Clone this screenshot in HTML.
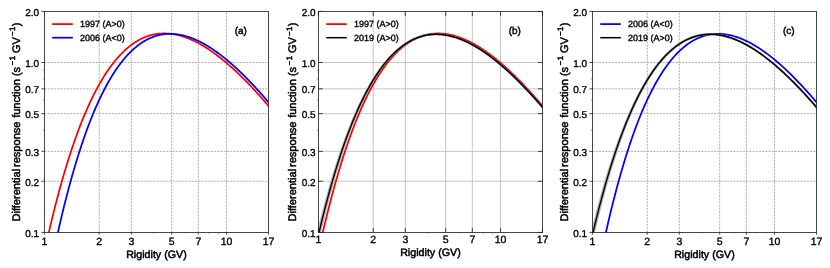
<!DOCTYPE html>
<html><head><meta charset="utf-8"><title>Differential response function</title>
<style>
html,body{margin:0;padding:0;background:#fff;}
body{width:830px;height:268px;overflow:hidden;}
svg{display:block;will-change:transform;}
text{text-rendering:geometricPrecision;font-family:"Liberation Sans",sans-serif;fill:#000;stroke:#000;stroke-width:0.35px;stroke-linejoin:round;}
.tk{font-size:10.5px;}
.lb{font-size:10.7px;stroke-width:0.5px;}
.ty{font-size:10.0px;}
.lg{font-size:9.0px;}
.tg{font-size:10px;stroke-width:0.45px;}
.sp{stroke:#1a1a1a;stroke-width:0.8;fill:none;}
.gd{stroke:#b2b2b2;stroke-width:1.0;fill:none;stroke-dasharray:2.2 1;}
.gs{stroke:#bebebe;stroke-width:0.9;fill:none;}
.cv{fill:none;stroke-width:1.65;stroke-linejoin:round;stroke-linecap:butt;}
</style></head><body>
<svg width="830" height="268" viewBox="0 0 830 268">
<rect x="0" y="0" width="830" height="268" fill="#ffffff"/>

<g>
<clipPath id="c0"><rect x="44.40" y="11.40" width="224.10" height="221.00"/></clipPath>
<path class="gd" d="M99.23,232.40V11.40M131.30,232.40V11.40M171.70,232.40V11.40M198.32,232.40V11.40M226.53,232.40V11.40M44.40,181.27H268.50M44.40,151.35H268.50M44.40,113.67H268.50M44.40,88.85H268.50M44.40,62.53H268.50"/>
<g clip-path="url(#c0)">
<path class="cv" d="M40.76,269.50 L41.73,264.80 L42.69,260.18 L43.66,255.62 L44.63,251.12 L45.60,246.69 L46.57,242.32 L47.53,238.02 L48.50,233.78 L49.47,229.60 L50.44,225.48 L51.41,221.42 L52.38,217.42 L53.34,213.48 L54.31,209.60 L55.28,205.78 L56.25,202.02 L57.22,198.31 L58.18,194.66 L59.15,191.06 L60.12,187.52 L61.09,184.04 L62.06,180.61 L63.02,177.23 L63.99,173.90 L64.96,170.63 L65.93,167.41 L66.90,164.24 L67.87,161.12 L68.83,158.05 L69.80,155.03 L70.77,152.05 L71.74,149.13 L72.71,146.26 L73.67,143.43 L74.64,140.65 L75.61,137.92 L76.58,135.23 L77.55,132.59 L78.51,129.99 L79.48,127.44 L80.45,124.93 L81.42,122.47 L82.39,120.05 L83.36,117.67 L84.32,115.33 L85.29,113.04 L86.26,110.79 L87.23,108.58 L88.20,106.41 L89.16,104.28 L90.13,102.19 L91.10,100.14 L92.07,98.12 L93.04,96.15 L94.01,94.22 L94.97,92.32 L95.94,90.46 L96.91,88.63 L97.88,86.85 L98.85,85.10 L99.81,83.38 L100.78,81.70 L101.75,80.06 L102.72,78.45 L103.69,76.88 L104.65,75.33 L105.62,73.83 L106.59,72.35 L107.56,70.91 L108.53,69.50 L109.50,68.13 L110.46,66.78 L111.43,65.47 L112.40,64.19 L113.37,62.94 L114.34,61.72 L115.30,60.53 L116.27,59.37 L117.24,58.24 L118.21,57.14 L119.18,56.06 L120.14,55.02 L121.11,54.01 L122.08,53.02 L123.05,52.06 L124.02,51.13 L124.99,50.22 L125.95,49.35 L126.92,48.50 L127.89,47.67 L128.86,46.88 L129.83,46.10 L130.79,45.36 L131.76,44.64 L132.73,43.94 L133.70,43.27 L134.67,42.62 L135.64,42.00 L136.60,41.40 L137.57,40.83 L138.54,40.28 L139.51,39.75 L140.48,39.24 L141.44,38.76 L142.41,38.30 L143.38,37.87 L144.35,37.45 L145.32,37.06 L146.28,36.69 L147.25,36.34 L148.22,36.01 L149.19,35.70 L150.16,35.41 L151.13,35.15 L152.09,34.90 L153.06,34.68 L154.03,34.47 L155.00,34.28 L155.97,34.12 L156.93,33.97 L157.90,33.84 L158.87,33.73 L159.84,33.64 L160.81,33.57 L161.77,33.51 L162.74,33.47 L163.71,33.46 L164.68,33.46 L165.65,33.47 L166.62,33.51 L167.58,33.56 L168.55,33.63 L169.52,33.71 L170.49,33.81 L171.46,33.93 L172.42,34.07 L173.39,34.22 L174.36,34.38 L175.33,34.57 L176.30,34.77 L177.26,34.98 L178.23,35.21 L179.20,35.45 L180.17,35.71 L181.14,35.98 L182.11,36.27 L183.07,36.58 L184.04,36.89 L185.01,37.22 L185.98,37.57 L186.95,37.93 L187.91,38.30 L188.88,38.69 L189.85,39.09 L190.82,39.50 L191.79,39.93 L192.76,40.37 L193.72,40.82 L194.69,41.29 L195.66,41.77 L196.63,42.26 L197.60,42.76 L198.56,43.28 L199.53,43.81 L200.50,44.35 L201.47,44.90 L202.44,45.46 L203.40,46.04 L204.37,46.62 L205.34,47.22 L206.31,47.83 L207.28,48.45 L208.25,49.08 L209.21,49.72 L210.18,50.38 L211.15,51.04 L212.12,51.72 L213.09,52.40 L214.05,53.10 L215.02,53.80 L215.99,54.52 L216.96,55.24 L217.93,55.98 L218.89,56.73 L219.86,57.48 L220.83,58.25 L221.80,59.02 L222.77,59.81 L223.74,60.60 L224.70,61.40 L225.67,62.21 L226.64,63.03 L227.61,63.86 L228.58,64.70 L229.54,65.55 L230.51,66.41 L231.48,67.27 L232.45,68.14 L233.42,69.02 L234.39,69.91 L235.35,70.81 L236.32,71.72 L237.29,72.63 L238.26,73.56 L239.23,74.49 L240.19,75.42 L241.16,76.37 L242.13,77.32 L243.10,78.28 L244.07,79.25 L245.03,80.23 L246.00,81.21 L246.97,82.20 L247.94,83.20 L248.91,84.20 L249.88,85.22 L250.84,86.23 L251.81,87.26 L252.78,88.29 L253.75,89.33 L254.72,90.38 L255.68,91.43 L256.65,92.49 L257.62,93.55 L258.59,94.63 L259.56,95.70 L260.52,96.79 L261.49,97.88 L262.46,98.98 L263.43,100.08 L264.40,101.19 L265.37,102.30 L266.33,103.42 L267.30,104.55 L268.27,105.68 L269.24,106.82 L270.21,107.96 L271.17,109.11 L272.14,110.27" stroke="#ff0000" style="stroke-width:1.75"/>
<path class="cv" d="M40.76,319.73 L41.73,314.18 L42.69,308.71 L43.66,303.32 L44.63,298.01 L45.60,292.77 L46.57,287.61 L47.53,282.52 L48.50,277.50 L49.47,272.56 L50.44,267.69 L51.41,262.89 L52.38,258.16 L53.34,253.50 L54.31,248.91 L55.28,244.39 L56.25,239.93 L57.22,235.54 L58.18,231.22 L59.15,226.96 L60.12,222.77 L61.09,218.64 L62.06,214.57 L63.02,210.57 L63.99,206.63 L64.96,202.75 L65.93,198.93 L66.90,195.17 L67.87,191.46 L68.83,187.82 L69.80,184.24 L70.77,180.71 L71.74,177.24 L72.71,173.82 L73.67,170.46 L74.64,167.16 L75.61,163.90 L76.58,160.71 L77.55,157.56 L78.51,154.47 L79.48,151.43 L80.45,148.44 L81.42,145.50 L82.39,142.62 L83.36,139.78 L84.32,136.99 L85.29,134.25 L86.26,131.56 L87.23,128.91 L88.20,126.31 L89.16,123.76 L90.13,121.26 L91.10,118.80 L92.07,116.38 L93.04,114.01 L94.01,111.69 L94.97,109.40 L95.94,107.17 L96.91,104.97 L97.88,102.81 L98.85,100.70 L99.81,98.63 L100.78,96.60 L101.75,94.61 L102.72,92.66 L103.69,90.75 L104.65,88.88 L105.62,87.05 L106.59,85.25 L107.56,83.49 L108.53,81.78 L109.50,80.09 L110.46,78.45 L111.43,76.84 L112.40,75.26 L113.37,73.73 L114.34,72.22 L115.30,70.76 L116.27,69.32 L117.24,67.92 L118.21,66.56 L119.18,65.22 L120.14,63.92 L121.11,62.65 L122.08,61.42 L123.05,60.22 L124.02,59.04 L124.99,57.90 L125.95,56.79 L126.92,55.71 L127.89,54.66 L128.86,53.64 L129.83,52.65 L130.79,51.69 L131.76,50.76 L132.73,49.85 L133.70,48.98 L134.67,48.13 L135.64,47.31 L136.60,46.52 L137.57,45.75 L138.54,45.01 L139.51,44.30 L140.48,43.61 L141.44,42.95 L142.41,42.32 L143.38,41.71 L144.35,41.12 L145.32,40.56 L146.28,40.03 L147.25,39.51 L148.22,39.03 L149.19,38.56 L150.16,38.12 L151.13,37.71 L152.09,37.31 L153.06,36.94 L154.03,36.59 L155.00,36.26 L155.97,35.96 L156.93,35.68 L157.90,35.42 L158.87,35.18 L159.84,34.96 L160.81,34.76 L161.77,34.58 L162.74,34.42 L163.71,34.29 L164.68,34.17 L165.65,34.07 L166.62,33.99 L167.58,33.93 L168.55,33.89 L169.52,33.87 L170.49,33.87 L171.46,33.89 L172.42,33.92 L173.39,33.98 L174.36,34.05 L175.33,34.13 L176.30,34.24 L177.26,34.36 L178.23,34.50 L179.20,34.66 L180.17,34.83 L181.14,35.02 L182.11,35.23 L183.07,35.45 L184.04,35.69 L185.01,35.95 L185.98,36.22 L186.95,36.50 L187.91,36.81 L188.88,37.12 L189.85,37.45 L190.82,37.80 L191.79,38.16 L192.76,38.54 L193.72,38.93 L194.69,39.33 L195.66,39.75 L196.63,40.18 L197.60,40.63 L198.56,41.09 L199.53,41.56 L200.50,42.05 L201.47,42.55 L202.44,43.06 L203.40,43.58 L204.37,44.12 L205.34,44.67 L206.31,45.24 L207.28,45.81 L208.25,46.40 L209.21,47.00 L210.18,47.61 L211.15,48.24 L212.12,48.87 L213.09,49.52 L214.05,50.18 L215.02,50.85 L215.99,51.53 L216.96,52.22 L217.93,52.92 L218.89,53.64 L219.86,54.36 L220.83,55.10 L221.80,55.84 L222.77,56.60 L223.74,57.37 L224.70,58.14 L225.67,58.93 L226.64,59.73 L227.61,60.53 L228.58,61.35 L229.54,62.17 L230.51,63.01 L231.48,63.85 L232.45,64.71 L233.42,65.57 L234.39,66.44 L235.35,67.32 L236.32,68.21 L237.29,69.11 L238.26,70.02 L239.23,70.94 L240.19,71.86 L241.16,72.80 L242.13,73.74 L243.10,74.69 L244.07,75.65 L245.03,76.61 L246.00,77.59 L246.97,78.57 L247.94,79.56 L248.91,80.56 L249.88,81.56 L250.84,82.57 L251.81,83.59 L252.78,84.62 L253.75,85.66 L254.72,86.70 L255.68,87.75 L256.65,88.80 L257.62,89.87 L258.59,90.94 L259.56,92.02 L260.52,93.10 L261.49,94.19 L262.46,95.29 L263.43,96.39 L264.40,97.50 L265.37,98.62 L266.33,99.74 L267.30,100.87 L268.27,102.01 L269.24,103.15 L270.21,104.30 L271.17,105.45 L272.14,106.61" stroke="#0000ff" style="stroke-width:1.75"/>
</g>
<rect class="sp" x="44.40" y="11.40" width="224.10" height="221.00"/>
<path class="sp" d="M44.40,232.40v2.3M99.23,232.40v2.3M131.30,232.40v2.3M171.70,232.40v2.3M198.32,232.40v2.3M226.53,232.40v2.3M268.50,232.40v2.3M44.40,232.40h-3M44.40,181.27h-3M44.40,151.35h-3M44.40,113.67h-3M44.40,88.85h-3M44.40,62.53h-3M44.40,11.40h-3"/>
<path class="sp" style="stroke-width:0.6;stroke:#555" d="M154.05,232.40v1.3M186.12,232.40v1.3M208.88,232.40v1.3M218.19,232.40v1.3M44.40,130.13h-1.6M44.40,100.22h-1.6M44.40,79.00h-1.6M44.40,70.31h-1.6"/>
<text class="tk" x="44.40" y="245.00" text-anchor="middle">1</text>
<text class="tk" x="99.23" y="245.00" text-anchor="middle">2</text>
<text class="tk" x="131.30" y="245.00" text-anchor="middle">3</text>
<text class="tk" x="171.70" y="245.00" text-anchor="middle">5</text>
<text class="tk" x="198.32" y="245.00" text-anchor="middle">7</text>
<text class="tk" x="226.53" y="245.00" text-anchor="middle">10</text>
<text class="tk" x="268.50" y="245.00" text-anchor="middle">17</text>
<text class="ty" x="39.20" y="236.65" text-anchor="end">0.1</text>
<text class="ty" x="39.20" y="185.52" text-anchor="end">0.2</text>
<text class="ty" x="39.20" y="155.60" text-anchor="end">0.3</text>
<text class="ty" x="39.20" y="117.92" text-anchor="end">0.5</text>
<text class="ty" x="39.20" y="93.10" text-anchor="end">0.7</text>
<text class="ty" x="39.20" y="66.78" text-anchor="end">1.0</text>
<text class="ty" x="39.20" y="15.65" text-anchor="end">2.0</text>
<text class="lb" x="156.45" y="257.70" text-anchor="middle">Rigidity (GV)</text>
<g transform="translate(19.70,0) rotate(-90)"><text class="lb" x="-221.50" y="0.00" style="font-size:11.05px">Differential</text><text class="lb" x="-167.00" y="0.00" style="font-size:11.05px">response</text><text class="lb" x="-117.85" y="0.00" style="font-size:11.05px">function</text><text class="lb" x="-76.10" y="0.00" style="font-size:11.05px">(s</text><text class="lb" x="-65.50" y="-4.70" style="font-size:7.5px" textLength="4.7" lengthAdjust="spacingAndGlyphs">−</text><text class="lb" x="-60.30" y="-4.70" style="font-size:7.9px">1</text><text class="lb" x="-53.10" y="0.00" style="font-size:11.05px">GV</text><text class="lb" x="-36.00" y="-4.70" style="font-size:7.5px" textLength="4.7" lengthAdjust="spacingAndGlyphs">−</text><text class="lb" x="-31.10" y="-4.70" style="font-size:7.9px">1</text><text class="lb" x="-26.30" y="0.00" style="font-size:11.05px">)</text></g>
<path d="M52.20,24.1h20.6" stroke="#ff0000" stroke-width="1.75" fill="none"/>
<text class="lg" x="79.90" y="27.40" text-anchor="start">1997 (A&gt;0)</text>
<path d="M52.20,37.7h20.6" stroke="#0000ff" stroke-width="1.75" fill="none"/>
<text class="lg" x="79.90" y="41.00" text-anchor="start">2006 (A&lt;0)</text>
<text class="tg" x="240.80" y="33.90" text-anchor="middle">(a)</text>
</g>
<g>
<clipPath id="c1"><rect x="318.40" y="11.40" width="224.10" height="221.00"/></clipPath>
<path class="gs" d="M373.23,232.40V11.40M405.30,232.40V11.40M445.70,232.40V11.40M472.32,232.40V11.40M500.53,232.40V11.40M318.40,181.27H542.50M318.40,151.35H542.50M318.40,113.67H542.50M318.40,88.85H542.50M318.40,62.53H542.50"/>
<g clip-path="url(#c1)">
<path class="cv" d="M314.76,269.50 L315.73,264.80 L316.69,260.18 L317.66,255.62 L318.63,251.12 L319.60,246.69 L320.57,242.32 L321.53,238.02 L322.50,233.78 L323.47,229.60 L324.44,225.48 L325.41,221.42 L326.38,217.42 L327.34,213.48 L328.31,209.60 L329.28,205.78 L330.25,202.02 L331.22,198.31 L332.18,194.66 L333.15,191.06 L334.12,187.52 L335.09,184.04 L336.06,180.61 L337.02,177.23 L337.99,173.90 L338.96,170.63 L339.93,167.41 L340.90,164.24 L341.87,161.12 L342.83,158.05 L343.80,155.03 L344.77,152.05 L345.74,149.13 L346.71,146.26 L347.67,143.43 L348.64,140.65 L349.61,137.92 L350.58,135.23 L351.55,132.59 L352.51,129.99 L353.48,127.44 L354.45,124.93 L355.42,122.47 L356.39,120.05 L357.36,117.67 L358.32,115.33 L359.29,113.04 L360.26,110.79 L361.23,108.58 L362.20,106.41 L363.16,104.28 L364.13,102.19 L365.10,100.14 L366.07,98.12 L367.04,96.15 L368.01,94.22 L368.97,92.32 L369.94,90.46 L370.91,88.63 L371.88,86.85 L372.85,85.10 L373.81,83.38 L374.78,81.70 L375.75,80.06 L376.72,78.45 L377.69,76.88 L378.65,75.33 L379.62,73.83 L380.59,72.35 L381.56,70.91 L382.53,69.50 L383.50,68.13 L384.46,66.78 L385.43,65.47 L386.40,64.19 L387.37,62.94 L388.34,61.72 L389.30,60.53 L390.27,59.37 L391.24,58.24 L392.21,57.14 L393.18,56.06 L394.14,55.02 L395.11,54.01 L396.08,53.02 L397.05,52.06 L398.02,51.13 L398.99,50.22 L399.95,49.35 L400.92,48.50 L401.89,47.67 L402.86,46.88 L403.83,46.10 L404.79,45.36 L405.76,44.64 L406.73,43.94 L407.70,43.27 L408.67,42.62 L409.64,42.00 L410.60,41.40 L411.57,40.83 L412.54,40.28 L413.51,39.75 L414.48,39.24 L415.44,38.76 L416.41,38.30 L417.38,37.87 L418.35,37.45 L419.32,37.06 L420.28,36.69 L421.25,36.34 L422.22,36.01 L423.19,35.70 L424.16,35.41 L425.13,35.15 L426.09,34.90 L427.06,34.68 L428.03,34.47 L429.00,34.28 L429.97,34.12 L430.93,33.97 L431.90,33.84 L432.87,33.73 L433.84,33.64 L434.81,33.57 L435.77,33.51 L436.74,33.47 L437.71,33.46 L438.68,33.46 L439.65,33.47 L440.62,33.51 L441.58,33.56 L442.55,33.63 L443.52,33.71 L444.49,33.81 L445.46,33.93 L446.42,34.07 L447.39,34.22 L448.36,34.38 L449.33,34.57 L450.30,34.77 L451.26,34.98 L452.23,35.21 L453.20,35.45 L454.17,35.71 L455.14,35.98 L456.11,36.27 L457.07,36.58 L458.04,36.89 L459.01,37.22 L459.98,37.57 L460.95,37.93 L461.91,38.30 L462.88,38.69 L463.85,39.09 L464.82,39.50 L465.79,39.93 L466.76,40.37 L467.72,40.82 L468.69,41.29 L469.66,41.77 L470.63,42.26 L471.60,42.76 L472.56,43.28 L473.53,43.81 L474.50,44.35 L475.47,44.90 L476.44,45.46 L477.40,46.04 L478.37,46.62 L479.34,47.22 L480.31,47.83 L481.28,48.45 L482.25,49.08 L483.21,49.72 L484.18,50.38 L485.15,51.04 L486.12,51.72 L487.09,52.40 L488.05,53.10 L489.02,53.80 L489.99,54.52 L490.96,55.24 L491.93,55.98 L492.89,56.73 L493.86,57.48 L494.83,58.25 L495.80,59.02 L496.77,59.81 L497.74,60.60 L498.70,61.40 L499.67,62.21 L500.64,63.03 L501.61,63.86 L502.58,64.70 L503.54,65.55 L504.51,66.41 L505.48,67.27 L506.45,68.14 L507.42,69.02 L508.39,69.91 L509.35,70.81 L510.32,71.72 L511.29,72.63 L512.26,73.56 L513.23,74.49 L514.19,75.42 L515.16,76.37 L516.13,77.32 L517.10,78.28 L518.07,79.25 L519.03,80.23 L520.00,81.21 L520.97,82.20 L521.94,83.20 L522.91,84.20 L523.88,85.22 L524.84,86.23 L525.81,87.26 L526.78,88.29 L527.75,89.33 L528.72,90.38 L529.68,91.43 L530.65,92.49 L531.62,93.55 L532.59,94.63 L533.56,95.70 L534.52,96.79 L535.49,97.88 L536.46,98.98 L537.43,100.08 L538.40,101.19 L539.37,102.30 L540.33,103.42 L541.30,104.55 L542.27,105.68 L543.24,106.82 L544.21,107.96 L545.17,109.11 L546.14,110.27" stroke="#ff0000" style="stroke-width:1.75"/>
<linearGradient id="g1" gradientUnits="userSpaceOnUse" x1="318.40" y1="0" x2="542.50" y2="0"><stop offset="0" stop-color="#b4b4b4"/><stop offset="0.12" stop-color="#a6a6a6"/><stop offset="0.25" stop-color="#8e8e8e"/><stop offset="0.5" stop-color="#6e6e6e"/><stop offset="1" stop-color="#666666"/></linearGradient>
<path d="M316.88,251.61 L317.82,247.27 L318.76,242.99 L319.71,238.78 L320.65,234.62 L321.59,230.52 L322.54,226.48 L323.48,222.50 L324.43,218.58 L325.37,214.72 L326.32,210.91 L327.26,207.16 L328.21,203.46 L329.16,199.82 L330.10,196.23 L331.05,192.70 L332.00,189.22 L332.95,185.79 L333.90,182.41 L334.85,179.09 L335.80,175.82 L336.75,172.59 L337.70,169.42 L338.65,166.30 L339.60,163.22 L340.55,160.20 L341.50,157.22 L342.45,154.29 L343.40,151.41 L344.36,148.57 L345.31,145.78 L346.26,143.04 L347.21,140.34 L348.17,137.68 L349.12,135.07 L350.08,132.51 L351.03,129.98 L351.98,127.50 L352.94,125.07 L353.89,122.67 L354.85,120.32 L355.80,118.00 L356.76,115.73 L357.71,113.50 L358.67,111.31 L359.62,109.16 L360.58,107.04 L361.53,104.97 L362.49,102.93 L363.44,100.94 L364.40,98.98 L365.35,97.05 L366.31,95.17 L367.26,93.32 L368.22,91.50 L369.18,89.72 L370.13,87.98 L371.09,86.27 L372.04,84.60 L373.00,82.96 L373.96,81.36 L374.91,79.79 L375.87,78.25 L376.82,76.74 L377.78,75.27 L378.73,73.83 L379.69,72.42 L380.65,71.04 L381.60,69.70 L382.56,68.38 L383.51,67.10 L384.47,65.84 L385.42,64.62 L386.38,63.43 L387.33,62.26 L388.29,61.13 L389.24,60.02 L390.19,58.94 L391.15,57.89 L392.10,56.87 L393.06,55.87 L394.01,54.90 L394.96,53.96 L395.92,53.05 L396.87,52.16 L397.82,51.30 L398.77,50.46 L399.72,49.65 L400.68,48.87 L401.63,48.11 L402.58,47.37 L403.53,46.66 L404.48,45.98 L405.43,45.31 L406.38,44.68 L407.33,44.06 L408.28,43.47 L409.23,42.90 L410.18,42.35 L411.13,41.83 L412.08,41.33 L413.03,40.85 L413.98,40.39 L414.93,39.95 L415.87,39.54 L416.82,39.14 L417.77,38.77 L418.72,38.41 L419.67,38.08 L420.61,37.77 L421.56,37.48 L422.51,37.20 L423.46,36.95 L424.40,36.71 L425.35,36.50 L426.30,36.30 L427.25,36.12 L428.20,35.97 L429.14,35.82 L430.09,35.70 L431.04,35.60 L431.99,35.51 L432.94,35.44 L433.89,35.39 L434.83,35.35 L435.78,35.33 L436.73,35.33 L437.68,35.34 L438.63,35.38 L439.58,35.42 L440.53,35.49 L441.49,35.57 L442.44,35.67 L443.39,35.78 L444.34,35.91 L445.29,36.05 L446.24,36.21 L447.20,36.38 L448.15,36.57 L449.10,36.77 L450.06,36.99 L451.01,37.22 L451.97,37.47 L452.92,37.73 L453.88,38.01 L454.83,38.30 L455.79,38.60 L456.74,38.92 L457.70,39.25 L458.66,39.59 L459.61,39.95 L460.57,40.32 L461.53,40.71 L462.49,41.10 L463.44,41.51 L464.40,41.94 L465.36,42.37 L466.32,42.82 L467.28,43.28 L468.24,43.75 L469.20,44.24 L470.16,44.73 L471.12,45.24 L472.08,45.76 L473.04,46.29 L474.00,46.84 L474.96,47.39 L475.92,47.96 L476.88,48.54 L477.84,49.13 L478.80,49.72 L479.77,50.33 L480.73,50.96 L481.69,51.59 L482.65,52.23 L483.61,52.88 L484.58,53.55 L485.54,54.22 L486.50,54.90 L487.47,55.59 L488.43,56.30 L489.39,57.01 L490.35,57.73 L491.32,58.47 L492.28,59.21 L493.25,59.96 L494.21,60.72 L495.17,61.49 L496.14,62.27 L497.10,63.06 L498.07,63.85 L499.03,64.66 L499.99,65.47 L500.96,66.30 L501.92,67.13 L502.89,67.97 L503.85,68.82 L504.82,69.67 L505.78,70.54 L506.75,71.41 L507.71,72.29 L508.68,73.18 L509.64,74.08 L510.61,74.98 L511.57,75.90 L512.54,76.82 L513.50,77.75 L514.47,78.68 L515.44,79.62 L516.40,80.57 L517.37,81.53 L518.33,82.50 L519.30,83.47 L520.26,84.45 L521.23,85.43 L522.20,86.43 L523.16,87.43 L524.13,88.43 L525.09,89.45 L526.06,90.47 L527.03,91.49 L527.99,92.53 L528.96,93.56 L529.93,94.61 L530.89,95.66 L531.86,96.72 L532.82,97.79 L533.79,98.86 L534.76,99.93 L535.72,101.02 L536.69,102.10 L537.66,103.20 L538.62,104.30 L539.59,105.40 L540.56,106.52 L541.52,107.63 L542.49,108.76 L543.46,109.88 L544.42,111.02 L545.39,112.16 L546.89,110.88 L545.93,109.74 L544.96,108.60 L543.99,107.47 L543.02,106.34 L542.05,105.22 L541.08,104.11 L540.11,103.00 L539.14,101.89 L538.17,100.79 L537.20,99.70 L536.23,98.61 L535.26,97.53 L534.29,96.46 L533.32,95.39 L532.35,94.33 L531.38,93.27 L530.41,92.22 L529.44,91.18 L528.47,90.14 L527.50,89.11 L526.53,88.08 L525.56,87.06 L524.59,86.05 L523.62,85.05 L522.65,84.05 L521.68,83.06 L520.71,82.07 L519.74,81.10 L518.77,80.13 L517.80,79.16 L516.83,78.21 L515.85,77.26 L514.88,76.32 L513.91,75.38 L512.94,74.46 L511.97,73.54 L511.00,72.63 L510.03,71.72 L509.06,70.83 L508.09,69.94 L507.12,69.06 L506.14,68.19 L505.17,67.32 L504.20,66.47 L503.23,65.62 L502.26,64.78 L501.29,63.95 L500.31,63.13 L499.34,62.32 L498.37,61.51 L497.40,60.72 L496.43,59.93 L495.45,59.15 L494.48,58.38 L493.51,57.63 L492.54,56.88 L491.56,56.14 L490.59,55.40 L489.62,54.68 L488.64,53.97 L487.67,53.27 L486.70,52.58 L485.72,51.89 L484.75,51.22 L483.78,50.56 L482.80,49.91 L481.83,49.27 L480.85,48.64 L479.88,48.02 L478.90,47.41 L477.93,46.81 L476.95,46.22 L475.98,45.65 L475.00,45.08 L474.03,44.53 L473.05,43.99 L472.08,43.46 L471.10,42.94 L470.12,42.43 L469.15,41.94 L468.17,41.45 L467.19,40.98 L466.21,40.52 L465.24,40.08 L464.26,39.64 L463.28,39.22 L462.30,38.81 L461.32,38.42 L460.34,38.04 L459.36,37.67 L458.38,37.31 L457.40,36.97 L456.42,36.65 L455.44,36.33 L454.46,36.03 L453.48,35.75 L452.50,35.48 L451.52,35.22 L450.54,34.98 L449.55,34.75 L448.57,34.54 L447.59,34.34 L446.60,34.16 L445.62,33.99 L444.64,33.84 L443.65,33.71 L442.67,33.59 L441.68,33.49 L440.70,33.40 L439.71,33.33 L438.72,33.28 L437.74,33.24 L436.75,33.22 L435.77,33.22 L434.78,33.23 L433.79,33.27 L432.80,33.32 L431.82,33.39 L430.83,33.48 L429.84,33.58 L428.85,33.71 L427.86,33.85 L426.88,34.01 L425.89,34.19 L424.90,34.39 L423.91,34.61 L422.92,34.85 L421.93,35.11 L420.94,35.39 L419.96,35.69 L418.97,36.02 L417.98,36.36 L416.99,36.72 L416.00,37.10 L415.01,37.51 L414.03,37.94 L413.04,38.38 L412.05,38.86 L411.06,39.35 L410.08,39.86 L409.09,40.40 L408.10,40.96 L407.12,41.55 L406.13,42.15 L405.14,42.78 L404.16,43.44 L403.17,44.12 L402.19,44.82 L401.20,45.55 L400.22,46.30 L399.23,47.07 L398.25,47.88 L397.26,48.70 L396.28,49.56 L395.29,50.44 L394.31,51.34 L393.33,52.27 L392.34,53.23 L391.36,54.21 L390.38,55.23 L389.40,56.27 L388.41,57.33 L387.43,58.43 L386.45,59.55 L385.47,60.70 L384.49,61.89 L383.51,63.10 L382.52,64.34 L381.54,65.61 L380.56,66.91 L379.58,68.24 L378.60,69.60 L377.62,70.99 L376.64,72.41 L375.66,73.87 L374.68,75.35 L373.70,76.87 L372.72,78.42 L371.74,80.01 L370.76,81.63 L369.77,83.28 L368.79,84.96 L367.81,86.69 L366.83,88.44 L365.85,90.23 L364.87,92.06 L363.89,93.92 L362.91,95.81 L361.93,97.75 L360.95,99.72 L359.97,101.73 L358.99,103.77 L358.01,105.86 L357.03,107.98 L356.05,110.14 L355.06,112.34 L354.08,114.59 L353.10,116.87 L352.12,119.19 L351.14,121.55 L350.16,123.95 L349.17,126.40 L348.19,128.89 L347.21,131.42 L346.23,133.99 L345.24,136.61 L344.26,139.27 L343.28,141.98 L342.29,144.73 L341.31,147.53 L340.33,150.37 L339.34,153.26 L338.36,156.19 L337.37,159.17 L336.39,162.21 L335.40,165.28 L334.42,168.41 L333.43,171.59 L332.44,174.82 L331.46,178.09 L330.47,181.42 L329.48,184.80 L328.50,188.24 L327.51,191.72 L326.52,195.26 L325.53,198.85 L324.54,202.49 L323.55,206.19 L322.56,209.95 L321.57,213.76 L320.58,217.63 L319.59,221.55 L318.60,225.53 L317.60,229.57 L316.61,233.67 L315.62,237.83 L314.62,242.05 L313.63,246.33 L312.63,250.66Z" fill="url(#g1)" stroke="none"/>
<path d="M315.42,251.29 L316.39,246.95 L317.36,242.67 L318.32,238.46 L319.29,234.30 L320.26,230.20 L321.23,226.17 L322.19,222.19 L323.16,218.27 L324.13,214.40 L325.10,210.60 L326.07,206.85 L327.03,203.15 L328.00,199.51 L328.97,195.92 L329.94,192.39 L330.90,188.91 L331.87,185.48 L332.84,182.11 L333.80,178.78 L334.77,175.51 L335.74,172.29 L336.71,169.12 L337.67,165.99 L338.64,162.92 L339.61,159.90 L340.58,156.92 L341.54,153.99 L342.51,151.11 L343.48,148.27 L344.44,145.48 L345.41,142.74 L346.38,140.04 L347.34,137.38 L348.31,134.77 L349.28,132.20 L350.24,129.68 L351.21,127.20 L352.18,124.76 L353.14,122.37 L354.11,120.01 L355.08,117.70 L356.04,115.43 L357.01,113.19 L357.98,111.00 L358.94,108.85 L359.91,106.74 L360.88,104.66 L361.84,102.62 L362.81,100.63 L363.77,98.66 L364.74,96.74 L365.70,94.85 L366.67,93.00 L367.64,91.19 L368.60,89.41 L369.57,87.67 L370.53,85.96 L371.50,84.28 L372.46,82.64 L373.43,81.04 L374.39,79.46 L375.36,77.92 L376.32,76.42 L377.29,74.94 L378.25,73.50 L379.21,72.09 L380.18,70.71 L381.14,69.36 L382.11,68.05 L383.07,66.76 L384.03,65.51 L385.00,64.28 L385.96,63.09 L386.92,61.92 L387.88,60.78 L388.85,59.67 L389.81,58.59 L390.77,57.54 L391.73,56.51 L392.69,55.52 L393.66,54.55 L394.62,53.61 L395.58,52.69 L396.54,51.80 L397.50,50.94 L398.46,50.10 L399.42,49.29 L400.38,48.50 L401.34,47.74 L402.30,47.00 L403.26,46.29 L404.22,45.60 L405.18,44.94 L406.14,44.30 L407.09,43.68 L408.05,43.09 L409.01,42.52 L409.97,41.97 L410.92,41.45 L411.88,40.94 L412.84,40.46 L413.80,40.00 L414.75,39.56 L415.71,39.15 L416.67,38.75 L417.62,38.38 L418.58,38.03 L419.53,37.69 L420.49,37.38 L421.45,37.09 L422.40,36.81 L423.36,36.56 L424.31,36.33 L425.27,36.11 L426.22,35.91 L427.18,35.74 L428.13,35.58 L429.09,35.44 L430.05,35.32 L431.00,35.21 L431.96,35.13 L432.91,35.06 L433.87,35.01 L434.82,34.97 L435.78,34.96 L436.74,34.96 L437.69,34.97 L438.65,35.01 L439.61,35.06 L440.56,35.12 L441.52,35.20 L442.48,35.30 L443.43,35.42 L444.39,35.55 L445.35,35.69 L446.31,35.85 L447.26,36.03 L448.22,36.22 L449.18,36.42 L450.14,36.64 L451.10,36.88 L452.06,37.13 L453.02,37.39 L453.98,37.67 L454.94,37.96 L455.89,38.27 L456.85,38.59 L457.81,38.92 L458.78,39.27 L459.74,39.63 L460.70,40.00 L461.66,40.39 L462.62,40.79 L463.58,41.20 L464.54,41.63 L465.50,42.06 L466.46,42.51 L467.43,42.98 L468.39,43.45 L469.35,43.94 L470.31,44.44 L471.27,44.95 L472.24,45.47 L473.20,46.00 L474.16,46.55 L475.13,47.11 L476.09,47.68 L477.05,48.25 L478.02,48.85 L478.98,49.45 L479.94,50.06 L480.91,50.68 L481.87,51.32 L482.83,51.96 L483.80,52.61 L484.76,53.28 L485.73,53.95 L486.69,54.64 L487.65,55.33 L488.62,56.04 L489.58,56.75 L490.55,57.48 L491.51,58.21 L492.48,58.95 L493.44,59.71 L494.41,60.47 L495.37,61.24 L496.34,62.02 L497.30,62.81 L498.27,63.61 L499.23,64.41 L500.20,65.23 L501.17,66.05 L502.13,66.89 L503.10,67.73 L504.06,68.58 L505.03,69.44 L505.99,70.30 L506.96,71.18 L507.93,72.06 L508.89,72.95 L509.86,73.85 L510.82,74.76 L511.79,75.67 L512.76,76.59 L513.72,77.52 L514.69,78.46 L515.65,79.40 L516.62,80.35 L517.59,81.31 L518.55,82.28 L519.52,83.25 L520.49,84.23 L521.45,85.22 L522.42,86.21 L523.39,87.21 L524.35,88.22 L525.32,89.23 L526.29,90.25 L527.25,91.28 L528.22,92.31 L529.19,93.35 L530.15,94.40 L531.12,95.45 L532.09,96.51 L533.05,97.58 L534.02,98.65 L534.99,99.73 L535.95,100.81 L536.92,101.90 L537.89,102.99 L538.85,104.10 L539.82,105.20 L540.79,106.31 L541.76,107.43 L542.72,108.56 L543.69,109.68 L544.66,110.82 L545.62,111.96 L546.66,111.08 L545.69,109.94 L544.72,108.80 L543.75,107.67 L542.78,106.54 L541.82,105.42 L540.85,104.31 L539.88,103.20 L538.91,102.10 L537.94,101.00 L536.97,99.91 L536.00,98.82 L535.03,97.74 L534.06,96.67 L533.09,95.60 L532.12,94.54 L531.15,93.48 L530.18,92.43 L529.21,91.39 L528.24,90.35 L527.27,89.32 L526.30,88.30 L525.33,87.28 L524.37,86.27 L523.40,85.26 L522.43,84.27 L521.46,83.28 L520.49,82.29 L519.52,81.32 L518.55,80.35 L517.58,79.39 L516.61,78.43 L515.64,77.48 L514.67,76.54 L513.70,75.61 L512.73,74.68 L511.76,73.77 L510.79,72.86 L509.82,71.95 L508.84,71.06 L507.87,70.17 L506.90,69.29 L505.93,68.42 L504.96,67.56 L503.99,66.71 L503.02,65.86 L502.05,65.02 L501.08,64.19 L500.11,63.37 L499.14,62.56 L498.17,61.76 L497.20,60.96 L496.23,60.18 L495.25,59.40 L494.28,58.64 L493.31,57.88 L492.34,57.13 L491.37,56.39 L490.40,55.66 L489.43,54.94 L488.45,54.23 L487.48,53.53 L486.51,52.84 L485.54,52.16 L484.57,51.49 L483.59,50.83 L482.62,50.18 L481.65,49.54 L480.68,48.91 L479.70,48.30 L478.73,47.69 L477.76,47.09 L476.78,46.51 L475.81,45.93 L474.84,45.37 L473.86,44.82 L472.89,44.28 L471.92,43.75 L470.94,43.23 L469.97,42.73 L469.00,42.24 L468.02,41.75 L467.05,41.29 L466.07,40.83 L465.10,40.39 L464.12,39.95 L463.15,39.54 L462.17,39.13 L461.20,38.74 L460.22,38.36 L459.25,37.99 L458.27,37.64 L457.29,37.30 L456.32,36.98 L455.34,36.67 L454.36,36.37 L453.39,36.08 L452.41,35.82 L451.43,35.56 L450.45,35.32 L449.48,35.10 L448.50,34.89 L447.52,34.69 L446.54,34.51 L445.56,34.35 L444.58,34.20 L443.61,34.07 L442.63,33.95 L441.65,33.85 L440.67,33.77 L439.69,33.70 L438.71,33.65 L437.73,33.61 L436.75,33.60 L435.77,33.60 L434.79,33.61 L433.81,33.65 L432.83,33.70 L431.85,33.77 L430.87,33.86 L429.89,33.97 L428.91,34.09 L427.92,34.24 L426.94,34.40 L425.96,34.58 L424.98,34.78 L424.00,35.00 L423.02,35.24 L422.04,35.50 L421.06,35.78 L420.08,36.08 L419.10,36.40 L418.12,36.75 L417.14,37.11 L416.16,37.49 L415.18,37.90 L414.20,38.32 L413.22,38.77 L412.24,39.24 L411.26,39.73 L410.28,40.25 L409.30,40.78 L408.32,41.34 L407.35,41.93 L406.37,42.53 L405.39,43.16 L404.41,43.81 L403.43,44.49 L402.46,45.19 L401.48,45.92 L400.50,46.67 L399.53,47.44 L398.55,48.24 L397.57,49.07 L396.60,49.92 L395.62,50.80 L394.65,51.70 L393.67,52.63 L392.70,53.58 L391.72,54.57 L390.75,55.58 L389.77,56.62 L388.80,57.68 L387.83,58.77 L386.85,59.90 L385.88,61.05 L384.90,62.23 L383.93,63.43 L382.96,64.67 L381.99,65.94 L381.01,67.24 L380.04,68.57 L379.07,69.93 L378.10,71.32 L377.12,72.74 L376.15,74.19 L375.18,75.68 L374.21,77.20 L373.24,78.75 L372.26,80.33 L371.29,81.95 L370.32,83.60 L369.35,85.28 L368.38,87.00 L367.41,88.76 L366.44,90.54 L365.47,92.37 L364.50,94.23 L363.53,96.13 L362.56,98.06 L361.59,100.03 L360.61,102.04 L359.64,104.08 L358.67,106.17 L357.70,108.29 L356.73,110.45 L355.76,112.65 L354.79,114.89 L353.82,117.17 L352.85,119.49 L351.88,121.85 L350.92,124.26 L349.95,126.70 L348.98,129.19 L348.01,131.72 L347.04,134.30 L346.07,136.91 L345.10,139.57 L344.13,142.28 L343.16,145.03 L342.19,147.83 L341.22,150.67 L340.25,153.56 L339.28,156.50 L338.31,159.48 L337.34,162.51 L336.38,165.59 L335.41,168.72 L334.44,171.89 L333.47,175.12 L332.50,178.40 L331.53,181.73 L330.56,185.11 L329.59,188.54 L328.62,192.03 L327.66,195.57 L326.69,199.16 L325.72,202.80 L324.75,206.50 L323.78,210.26 L322.81,214.07 L321.84,217.94 L320.87,221.87 L319.91,225.85 L318.94,229.89 L317.97,233.99 L317.00,238.15 L316.03,242.37 L315.06,246.65 L314.09,250.99Z" fill="#000" stroke="none"/>
</g>
<rect class="sp" x="318.40" y="11.40" width="224.10" height="221.00"/>
<path class="sp" d="M318.40,232.40v-4.5M373.23,232.40v-4.5M405.30,232.40v-4.5M445.70,232.40v-4.5M472.32,232.40v-4.5M500.53,232.40v-4.5M542.50,232.40v-4.5M318.40,232.40h4.5M318.40,181.27h4.5M318.40,151.35h4.5M318.40,113.67h4.5M318.40,88.85h4.5M318.40,62.53h4.5M318.40,11.40h4.5M318.40,11.40v4.5M373.23,11.40v4.5M405.30,11.40v4.5M445.70,11.40v4.5M472.32,11.40v4.5M500.53,11.40v4.5M542.50,11.40v4.5M542.50,232.40h-4.5M542.50,181.27h-4.5M542.50,151.35h-4.5M542.50,113.67h-4.5M542.50,88.85h-4.5M542.50,62.53h-4.5M542.50,11.40h-4.5"/>
<path class="sp" style="stroke-width:0.6;stroke:#555" d="M428.05,232.40v1.3M460.12,232.40v1.3M482.88,232.40v1.3M492.19,232.40v1.3M318.40,130.13h-1.6M318.40,100.22h-1.6M318.40,79.00h-1.6M318.40,70.31h-1.6"/>
<text class="tk" x="318.40" y="242.70" text-anchor="middle">1</text>
<text class="tk" x="373.23" y="242.70" text-anchor="middle">2</text>
<text class="tk" x="405.30" y="242.70" text-anchor="middle">3</text>
<text class="tk" x="445.70" y="242.70" text-anchor="middle">5</text>
<text class="tk" x="472.32" y="242.70" text-anchor="middle">7</text>
<text class="tk" x="500.53" y="242.70" text-anchor="middle">10</text>
<text class="tk" x="542.50" y="242.70" text-anchor="middle">17</text>
<text class="ty" x="315.60" y="236.65" text-anchor="end">0.1</text>
<text class="ty" x="315.60" y="185.52" text-anchor="end">0.2</text>
<text class="ty" x="315.60" y="155.60" text-anchor="end">0.3</text>
<text class="ty" x="315.60" y="117.92" text-anchor="end">0.5</text>
<text class="ty" x="315.60" y="93.10" text-anchor="end">0.7</text>
<text class="ty" x="315.60" y="66.78" text-anchor="end">1.0</text>
<text class="ty" x="315.60" y="15.65" text-anchor="end">2.0</text>
<text class="lb" x="430.45" y="255.50" text-anchor="middle">Rigidity (GV)</text>
<g transform="translate(296.35,0) rotate(-90)"><text class="lb" x="-221.50" y="0.00" style="font-size:11.05px">Differential</text><text class="lb" x="-167.00" y="0.00" style="font-size:11.05px">response</text><text class="lb" x="-117.85" y="0.00" style="font-size:11.05px">function</text><text class="lb" x="-76.10" y="0.00" style="font-size:11.05px">(s</text><text class="lb" x="-65.50" y="-4.70" style="font-size:7.5px" textLength="4.7" lengthAdjust="spacingAndGlyphs">−</text><text class="lb" x="-60.30" y="-4.70" style="font-size:7.9px">1</text><text class="lb" x="-53.10" y="0.00" style="font-size:11.05px">GV</text><text class="lb" x="-36.00" y="-4.70" style="font-size:7.5px" textLength="4.7" lengthAdjust="spacingAndGlyphs">−</text><text class="lb" x="-31.10" y="-4.70" style="font-size:7.9px">1</text><text class="lb" x="-26.30" y="0.00" style="font-size:11.05px">)</text></g>
<path d="M326.20,24.1h20.6" stroke="#ff0000" stroke-width="1.75" fill="none"/>
<text class="lg" x="353.90" y="27.40" text-anchor="start">1997 (A&gt;0)</text>
<path d="M326.20,37.7h20.6" stroke="#000000" stroke-width="1.5" fill="none"/>
<text class="lg" x="353.90" y="41.00" text-anchor="start">2019 (A&gt;0)</text>
<text class="tg" x="514.80" y="33.90" text-anchor="middle">(b)</text>
</g>
<g>
<clipPath id="c2"><rect x="592.40" y="11.40" width="224.10" height="221.00"/></clipPath>
<path class="gd" d="M647.23,232.40V11.40M679.30,232.40V11.40M719.70,232.40V11.40M746.32,232.40V11.40M774.53,232.40V11.40M592.40,181.27H816.50M592.40,151.35H816.50M592.40,113.67H816.50M592.40,88.85H816.50M592.40,62.53H816.50"/>
<g clip-path="url(#c2)">
<path class="cv" d="M588.76,319.73 L589.73,314.18 L590.69,308.71 L591.66,303.32 L592.63,298.01 L593.60,292.77 L594.57,287.61 L595.53,282.52 L596.50,277.50 L597.47,272.56 L598.44,267.69 L599.41,262.89 L600.38,258.16 L601.34,253.50 L602.31,248.91 L603.28,244.39 L604.25,239.93 L605.22,235.54 L606.18,231.22 L607.15,226.96 L608.12,222.77 L609.09,218.64 L610.06,214.57 L611.02,210.57 L611.99,206.63 L612.96,202.75 L613.93,198.93 L614.90,195.17 L615.87,191.46 L616.83,187.82 L617.80,184.24 L618.77,180.71 L619.74,177.24 L620.71,173.82 L621.67,170.46 L622.64,167.16 L623.61,163.90 L624.58,160.71 L625.55,157.56 L626.51,154.47 L627.48,151.43 L628.45,148.44 L629.42,145.50 L630.39,142.62 L631.36,139.78 L632.32,136.99 L633.29,134.25 L634.26,131.56 L635.23,128.91 L636.20,126.31 L637.16,123.76 L638.13,121.26 L639.10,118.80 L640.07,116.38 L641.04,114.01 L642.01,111.69 L642.97,109.40 L643.94,107.17 L644.91,104.97 L645.88,102.81 L646.85,100.70 L647.81,98.63 L648.78,96.60 L649.75,94.61 L650.72,92.66 L651.69,90.75 L652.65,88.88 L653.62,87.05 L654.59,85.25 L655.56,83.49 L656.53,81.78 L657.50,80.09 L658.46,78.45 L659.43,76.84 L660.40,75.26 L661.37,73.73 L662.34,72.22 L663.30,70.76 L664.27,69.32 L665.24,67.92 L666.21,66.56 L667.18,65.22 L668.14,63.92 L669.11,62.65 L670.08,61.42 L671.05,60.22 L672.02,59.04 L672.99,57.90 L673.95,56.79 L674.92,55.71 L675.89,54.66 L676.86,53.64 L677.83,52.65 L678.79,51.69 L679.76,50.76 L680.73,49.85 L681.70,48.98 L682.67,48.13 L683.64,47.31 L684.60,46.52 L685.57,45.75 L686.54,45.01 L687.51,44.30 L688.48,43.61 L689.44,42.95 L690.41,42.32 L691.38,41.71 L692.35,41.12 L693.32,40.56 L694.28,40.03 L695.25,39.51 L696.22,39.03 L697.19,38.56 L698.16,38.12 L699.13,37.71 L700.09,37.31 L701.06,36.94 L702.03,36.59 L703.00,36.26 L703.97,35.96 L704.93,35.68 L705.90,35.42 L706.87,35.18 L707.84,34.96 L708.81,34.76 L709.77,34.58 L710.74,34.42 L711.71,34.29 L712.68,34.17 L713.65,34.07 L714.62,33.99 L715.58,33.93 L716.55,33.89 L717.52,33.87 L718.49,33.87 L719.46,33.89 L720.42,33.92 L721.39,33.98 L722.36,34.05 L723.33,34.13 L724.30,34.24 L725.26,34.36 L726.23,34.50 L727.20,34.66 L728.17,34.83 L729.14,35.02 L730.11,35.23 L731.07,35.45 L732.04,35.69 L733.01,35.95 L733.98,36.22 L734.95,36.50 L735.91,36.81 L736.88,37.12 L737.85,37.45 L738.82,37.80 L739.79,38.16 L740.76,38.54 L741.72,38.93 L742.69,39.33 L743.66,39.75 L744.63,40.18 L745.60,40.63 L746.56,41.09 L747.53,41.56 L748.50,42.05 L749.47,42.55 L750.44,43.06 L751.40,43.58 L752.37,44.12 L753.34,44.67 L754.31,45.24 L755.28,45.81 L756.25,46.40 L757.21,47.00 L758.18,47.61 L759.15,48.24 L760.12,48.87 L761.09,49.52 L762.05,50.18 L763.02,50.85 L763.99,51.53 L764.96,52.22 L765.93,52.92 L766.89,53.64 L767.86,54.36 L768.83,55.10 L769.80,55.84 L770.77,56.60 L771.74,57.37 L772.70,58.14 L773.67,58.93 L774.64,59.73 L775.61,60.53 L776.58,61.35 L777.54,62.17 L778.51,63.01 L779.48,63.85 L780.45,64.71 L781.42,65.57 L782.39,66.44 L783.35,67.32 L784.32,68.21 L785.29,69.11 L786.26,70.02 L787.23,70.94 L788.19,71.86 L789.16,72.80 L790.13,73.74 L791.10,74.69 L792.07,75.65 L793.03,76.61 L794.00,77.59 L794.97,78.57 L795.94,79.56 L796.91,80.56 L797.88,81.56 L798.84,82.57 L799.81,83.59 L800.78,84.62 L801.75,85.66 L802.72,86.70 L803.68,87.75 L804.65,88.80 L805.62,89.87 L806.59,90.94 L807.56,92.02 L808.52,93.10 L809.49,94.19 L810.46,95.29 L811.43,96.39 L812.40,97.50 L813.37,98.62 L814.33,99.74 L815.30,100.87 L816.27,102.01 L817.24,103.15 L818.21,104.30 L819.17,105.45 L820.14,106.61" stroke="#0000ff" style="stroke-width:1.75"/>
<linearGradient id="g2" gradientUnits="userSpaceOnUse" x1="592.40" y1="0" x2="816.50" y2="0"><stop offset="0" stop-color="#b4b4b4"/><stop offset="0.12" stop-color="#a6a6a6"/><stop offset="0.25" stop-color="#8e8e8e"/><stop offset="0.5" stop-color="#6e6e6e"/><stop offset="1" stop-color="#666666"/></linearGradient>
<path d="M590.88,251.61 L591.82,247.27 L592.76,242.99 L593.71,238.78 L594.65,234.62 L595.59,230.52 L596.54,226.48 L597.48,222.50 L598.43,218.58 L599.37,214.72 L600.32,210.91 L601.26,207.16 L602.21,203.46 L603.16,199.82 L604.10,196.23 L605.05,192.70 L606.00,189.22 L606.95,185.79 L607.90,182.41 L608.85,179.09 L609.80,175.82 L610.75,172.59 L611.70,169.42 L612.65,166.30 L613.60,163.22 L614.55,160.20 L615.50,157.22 L616.45,154.29 L617.40,151.41 L618.36,148.57 L619.31,145.78 L620.26,143.04 L621.21,140.34 L622.17,137.68 L623.12,135.07 L624.08,132.51 L625.03,129.98 L625.98,127.50 L626.94,125.07 L627.89,122.67 L628.85,120.32 L629.80,118.00 L630.76,115.73 L631.71,113.50 L632.67,111.31 L633.62,109.16 L634.58,107.04 L635.53,104.97 L636.49,102.93 L637.44,100.94 L638.40,98.98 L639.35,97.05 L640.31,95.17 L641.26,93.32 L642.22,91.50 L643.18,89.72 L644.13,87.98 L645.09,86.27 L646.04,84.60 L647.00,82.96 L647.96,81.36 L648.91,79.79 L649.87,78.25 L650.82,76.74 L651.78,75.27 L652.73,73.83 L653.69,72.42 L654.65,71.04 L655.60,69.70 L656.56,68.38 L657.51,67.10 L658.47,65.84 L659.42,64.62 L660.38,63.43 L661.33,62.26 L662.29,61.13 L663.24,60.02 L664.19,58.94 L665.15,57.89 L666.10,56.87 L667.06,55.87 L668.01,54.90 L668.96,53.96 L669.92,53.05 L670.87,52.16 L671.82,51.30 L672.77,50.46 L673.72,49.65 L674.68,48.87 L675.63,48.11 L676.58,47.37 L677.53,46.66 L678.48,45.98 L679.43,45.31 L680.38,44.68 L681.33,44.06 L682.28,43.47 L683.23,42.90 L684.18,42.35 L685.13,41.83 L686.08,41.33 L687.03,40.85 L687.98,40.39 L688.93,39.95 L689.87,39.54 L690.82,39.14 L691.77,38.77 L692.72,38.41 L693.67,38.08 L694.61,37.77 L695.56,37.48 L696.51,37.20 L697.46,36.95 L698.40,36.71 L699.35,36.50 L700.30,36.30 L701.25,36.12 L702.20,35.97 L703.14,35.82 L704.09,35.70 L705.04,35.60 L705.99,35.51 L706.94,35.44 L707.89,35.39 L708.83,35.35 L709.78,35.33 L710.73,35.33 L711.68,35.34 L712.63,35.38 L713.58,35.42 L714.53,35.49 L715.49,35.57 L716.44,35.67 L717.39,35.78 L718.34,35.91 L719.29,36.05 L720.24,36.21 L721.20,36.38 L722.15,36.57 L723.10,36.77 L724.06,36.99 L725.01,37.22 L725.97,37.47 L726.92,37.73 L727.88,38.01 L728.83,38.30 L729.79,38.60 L730.74,38.92 L731.70,39.25 L732.66,39.59 L733.61,39.95 L734.57,40.32 L735.53,40.71 L736.49,41.10 L737.44,41.51 L738.40,41.94 L739.36,42.37 L740.32,42.82 L741.28,43.28 L742.24,43.75 L743.20,44.24 L744.16,44.73 L745.12,45.24 L746.08,45.76 L747.04,46.29 L748.00,46.84 L748.96,47.39 L749.92,47.96 L750.88,48.54 L751.84,49.13 L752.80,49.72 L753.77,50.33 L754.73,50.96 L755.69,51.59 L756.65,52.23 L757.61,52.88 L758.58,53.55 L759.54,54.22 L760.50,54.90 L761.47,55.59 L762.43,56.30 L763.39,57.01 L764.35,57.73 L765.32,58.47 L766.28,59.21 L767.25,59.96 L768.21,60.72 L769.17,61.49 L770.14,62.27 L771.10,63.06 L772.07,63.85 L773.03,64.66 L773.99,65.47 L774.96,66.30 L775.92,67.13 L776.89,67.97 L777.85,68.82 L778.82,69.67 L779.78,70.54 L780.75,71.41 L781.71,72.29 L782.68,73.18 L783.64,74.08 L784.61,74.98 L785.57,75.90 L786.54,76.82 L787.50,77.75 L788.47,78.68 L789.44,79.62 L790.40,80.57 L791.37,81.53 L792.33,82.50 L793.30,83.47 L794.26,84.45 L795.23,85.43 L796.20,86.43 L797.16,87.43 L798.13,88.43 L799.09,89.45 L800.06,90.47 L801.03,91.49 L801.99,92.53 L802.96,93.56 L803.93,94.61 L804.89,95.66 L805.86,96.72 L806.82,97.79 L807.79,98.86 L808.76,99.93 L809.72,101.02 L810.69,102.10 L811.66,103.20 L812.62,104.30 L813.59,105.40 L814.56,106.52 L815.52,107.63 L816.49,108.76 L817.46,109.88 L818.42,111.02 L819.39,112.16 L820.89,110.88 L819.93,109.74 L818.96,108.60 L817.99,107.47 L817.02,106.34 L816.05,105.22 L815.08,104.11 L814.11,103.00 L813.14,101.89 L812.17,100.79 L811.20,99.70 L810.23,98.61 L809.26,97.53 L808.29,96.46 L807.32,95.39 L806.35,94.33 L805.38,93.27 L804.41,92.22 L803.44,91.18 L802.47,90.14 L801.50,89.11 L800.53,88.08 L799.56,87.06 L798.59,86.05 L797.62,85.05 L796.65,84.05 L795.68,83.06 L794.71,82.07 L793.74,81.10 L792.77,80.13 L791.80,79.16 L790.83,78.21 L789.85,77.26 L788.88,76.32 L787.91,75.38 L786.94,74.46 L785.97,73.54 L785.00,72.63 L784.03,71.72 L783.06,70.83 L782.09,69.94 L781.12,69.06 L780.14,68.19 L779.17,67.32 L778.20,66.47 L777.23,65.62 L776.26,64.78 L775.29,63.95 L774.31,63.13 L773.34,62.32 L772.37,61.51 L771.40,60.72 L770.43,59.93 L769.45,59.15 L768.48,58.38 L767.51,57.63 L766.54,56.88 L765.56,56.14 L764.59,55.40 L763.62,54.68 L762.64,53.97 L761.67,53.27 L760.70,52.58 L759.72,51.89 L758.75,51.22 L757.78,50.56 L756.80,49.91 L755.83,49.27 L754.85,48.64 L753.88,48.02 L752.90,47.41 L751.93,46.81 L750.95,46.22 L749.98,45.65 L749.00,45.08 L748.03,44.53 L747.05,43.99 L746.08,43.46 L745.10,42.94 L744.12,42.43 L743.15,41.94 L742.17,41.45 L741.19,40.98 L740.21,40.52 L739.24,40.08 L738.26,39.64 L737.28,39.22 L736.30,38.81 L735.32,38.42 L734.34,38.04 L733.36,37.67 L732.38,37.31 L731.40,36.97 L730.42,36.65 L729.44,36.33 L728.46,36.03 L727.48,35.75 L726.50,35.48 L725.52,35.22 L724.54,34.98 L723.55,34.75 L722.57,34.54 L721.59,34.34 L720.60,34.16 L719.62,33.99 L718.64,33.84 L717.65,33.71 L716.67,33.59 L715.68,33.49 L714.70,33.40 L713.71,33.33 L712.72,33.28 L711.74,33.24 L710.75,33.22 L709.77,33.22 L708.78,33.23 L707.79,33.27 L706.80,33.32 L705.82,33.39 L704.83,33.48 L703.84,33.58 L702.85,33.71 L701.86,33.85 L700.88,34.01 L699.89,34.19 L698.90,34.39 L697.91,34.61 L696.92,34.85 L695.93,35.11 L694.94,35.39 L693.96,35.69 L692.97,36.02 L691.98,36.36 L690.99,36.72 L690.00,37.10 L689.01,37.51 L688.03,37.94 L687.04,38.38 L686.05,38.86 L685.06,39.35 L684.08,39.86 L683.09,40.40 L682.10,40.96 L681.12,41.55 L680.13,42.15 L679.14,42.78 L678.16,43.44 L677.17,44.12 L676.19,44.82 L675.20,45.55 L674.22,46.30 L673.23,47.07 L672.25,47.88 L671.26,48.70 L670.28,49.56 L669.29,50.44 L668.31,51.34 L667.33,52.27 L666.34,53.23 L665.36,54.21 L664.38,55.23 L663.40,56.27 L662.41,57.33 L661.43,58.43 L660.45,59.55 L659.47,60.70 L658.49,61.89 L657.51,63.10 L656.52,64.34 L655.54,65.61 L654.56,66.91 L653.58,68.24 L652.60,69.60 L651.62,70.99 L650.64,72.41 L649.66,73.87 L648.68,75.35 L647.70,76.87 L646.72,78.42 L645.74,80.01 L644.76,81.63 L643.77,83.28 L642.79,84.96 L641.81,86.69 L640.83,88.44 L639.85,90.23 L638.87,92.06 L637.89,93.92 L636.91,95.81 L635.93,97.75 L634.95,99.72 L633.97,101.73 L632.99,103.77 L632.01,105.86 L631.03,107.98 L630.05,110.14 L629.06,112.34 L628.08,114.59 L627.10,116.87 L626.12,119.19 L625.14,121.55 L624.16,123.95 L623.17,126.40 L622.19,128.89 L621.21,131.42 L620.23,133.99 L619.24,136.61 L618.26,139.27 L617.28,141.98 L616.29,144.73 L615.31,147.53 L614.33,150.37 L613.34,153.26 L612.36,156.19 L611.37,159.17 L610.39,162.21 L609.40,165.28 L608.42,168.41 L607.43,171.59 L606.44,174.82 L605.46,178.09 L604.47,181.42 L603.48,184.80 L602.50,188.24 L601.51,191.72 L600.52,195.26 L599.53,198.85 L598.54,202.49 L597.55,206.19 L596.56,209.95 L595.57,213.76 L594.58,217.63 L593.59,221.55 L592.60,225.53 L591.60,229.57 L590.61,233.67 L589.62,237.83 L588.62,242.05 L587.63,246.33 L586.63,250.66Z" fill="url(#g2)" stroke="none"/>
<path d="M589.42,251.29 L590.39,246.95 L591.36,242.67 L592.32,238.46 L593.29,234.30 L594.26,230.20 L595.23,226.17 L596.19,222.19 L597.16,218.27 L598.13,214.40 L599.10,210.60 L600.07,206.85 L601.03,203.15 L602.00,199.51 L602.97,195.92 L603.94,192.39 L604.90,188.91 L605.87,185.48 L606.84,182.11 L607.80,178.78 L608.77,175.51 L609.74,172.29 L610.71,169.12 L611.67,165.99 L612.64,162.92 L613.61,159.90 L614.58,156.92 L615.54,153.99 L616.51,151.11 L617.48,148.27 L618.44,145.48 L619.41,142.74 L620.38,140.04 L621.34,137.38 L622.31,134.77 L623.28,132.20 L624.24,129.68 L625.21,127.20 L626.18,124.76 L627.14,122.37 L628.11,120.01 L629.08,117.70 L630.04,115.43 L631.01,113.19 L631.98,111.00 L632.94,108.85 L633.91,106.74 L634.88,104.66 L635.84,102.62 L636.81,100.63 L637.77,98.66 L638.74,96.74 L639.70,94.85 L640.67,93.00 L641.64,91.19 L642.60,89.41 L643.57,87.67 L644.53,85.96 L645.50,84.28 L646.46,82.64 L647.43,81.04 L648.39,79.46 L649.36,77.92 L650.32,76.42 L651.29,74.94 L652.25,73.50 L653.21,72.09 L654.18,70.71 L655.14,69.36 L656.11,68.05 L657.07,66.76 L658.03,65.51 L659.00,64.28 L659.96,63.09 L660.92,61.92 L661.88,60.78 L662.85,59.67 L663.81,58.59 L664.77,57.54 L665.73,56.51 L666.69,55.52 L667.66,54.55 L668.62,53.61 L669.58,52.69 L670.54,51.80 L671.50,50.94 L672.46,50.10 L673.42,49.29 L674.38,48.50 L675.34,47.74 L676.30,47.00 L677.26,46.29 L678.22,45.60 L679.18,44.94 L680.14,44.30 L681.09,43.68 L682.05,43.09 L683.01,42.52 L683.97,41.97 L684.92,41.45 L685.88,40.94 L686.84,40.46 L687.80,40.00 L688.75,39.56 L689.71,39.15 L690.67,38.75 L691.62,38.38 L692.58,38.03 L693.53,37.69 L694.49,37.38 L695.45,37.09 L696.40,36.81 L697.36,36.56 L698.31,36.33 L699.27,36.11 L700.22,35.91 L701.18,35.74 L702.13,35.58 L703.09,35.44 L704.05,35.32 L705.00,35.21 L705.96,35.13 L706.91,35.06 L707.87,35.01 L708.82,34.97 L709.78,34.96 L710.74,34.96 L711.69,34.97 L712.65,35.01 L713.61,35.06 L714.56,35.12 L715.52,35.20 L716.48,35.30 L717.43,35.42 L718.39,35.55 L719.35,35.69 L720.31,35.85 L721.26,36.03 L722.22,36.22 L723.18,36.42 L724.14,36.64 L725.10,36.88 L726.06,37.13 L727.02,37.39 L727.98,37.67 L728.94,37.96 L729.89,38.27 L730.85,38.59 L731.81,38.92 L732.78,39.27 L733.74,39.63 L734.70,40.00 L735.66,40.39 L736.62,40.79 L737.58,41.20 L738.54,41.63 L739.50,42.06 L740.46,42.51 L741.43,42.98 L742.39,43.45 L743.35,43.94 L744.31,44.44 L745.27,44.95 L746.24,45.47 L747.20,46.00 L748.16,46.55 L749.13,47.11 L750.09,47.68 L751.05,48.25 L752.02,48.85 L752.98,49.45 L753.94,50.06 L754.91,50.68 L755.87,51.32 L756.83,51.96 L757.80,52.61 L758.76,53.28 L759.73,53.95 L760.69,54.64 L761.65,55.33 L762.62,56.04 L763.58,56.75 L764.55,57.48 L765.51,58.21 L766.48,58.95 L767.44,59.71 L768.41,60.47 L769.37,61.24 L770.34,62.02 L771.30,62.81 L772.27,63.61 L773.23,64.41 L774.20,65.23 L775.17,66.05 L776.13,66.89 L777.10,67.73 L778.06,68.58 L779.03,69.44 L779.99,70.30 L780.96,71.18 L781.93,72.06 L782.89,72.95 L783.86,73.85 L784.82,74.76 L785.79,75.67 L786.76,76.59 L787.72,77.52 L788.69,78.46 L789.65,79.40 L790.62,80.35 L791.59,81.31 L792.55,82.28 L793.52,83.25 L794.49,84.23 L795.45,85.22 L796.42,86.21 L797.39,87.21 L798.35,88.22 L799.32,89.23 L800.29,90.25 L801.25,91.28 L802.22,92.31 L803.19,93.35 L804.15,94.40 L805.12,95.45 L806.09,96.51 L807.05,97.58 L808.02,98.65 L808.99,99.73 L809.95,100.81 L810.92,101.90 L811.89,102.99 L812.85,104.10 L813.82,105.20 L814.79,106.31 L815.76,107.43 L816.72,108.56 L817.69,109.68 L818.66,110.82 L819.62,111.96 L820.66,111.08 L819.69,109.94 L818.72,108.80 L817.75,107.67 L816.78,106.54 L815.82,105.42 L814.85,104.31 L813.88,103.20 L812.91,102.10 L811.94,101.00 L810.97,99.91 L810.00,98.82 L809.03,97.74 L808.06,96.67 L807.09,95.60 L806.12,94.54 L805.15,93.48 L804.18,92.43 L803.21,91.39 L802.24,90.35 L801.27,89.32 L800.30,88.30 L799.33,87.28 L798.37,86.27 L797.40,85.26 L796.43,84.27 L795.46,83.28 L794.49,82.29 L793.52,81.32 L792.55,80.35 L791.58,79.39 L790.61,78.43 L789.64,77.48 L788.67,76.54 L787.70,75.61 L786.73,74.68 L785.76,73.77 L784.79,72.86 L783.82,71.95 L782.84,71.06 L781.87,70.17 L780.90,69.29 L779.93,68.42 L778.96,67.56 L777.99,66.71 L777.02,65.86 L776.05,65.02 L775.08,64.19 L774.11,63.37 L773.14,62.56 L772.17,61.76 L771.20,60.96 L770.23,60.18 L769.25,59.40 L768.28,58.64 L767.31,57.88 L766.34,57.13 L765.37,56.39 L764.40,55.66 L763.43,54.94 L762.45,54.23 L761.48,53.53 L760.51,52.84 L759.54,52.16 L758.57,51.49 L757.59,50.83 L756.62,50.18 L755.65,49.54 L754.68,48.91 L753.70,48.30 L752.73,47.69 L751.76,47.09 L750.78,46.51 L749.81,45.93 L748.84,45.37 L747.86,44.82 L746.89,44.28 L745.92,43.75 L744.94,43.23 L743.97,42.73 L743.00,42.24 L742.02,41.75 L741.05,41.29 L740.07,40.83 L739.10,40.39 L738.12,39.95 L737.15,39.54 L736.17,39.13 L735.20,38.74 L734.22,38.36 L733.25,37.99 L732.27,37.64 L731.29,37.30 L730.32,36.98 L729.34,36.67 L728.36,36.37 L727.39,36.08 L726.41,35.82 L725.43,35.56 L724.45,35.32 L723.48,35.10 L722.50,34.89 L721.52,34.69 L720.54,34.51 L719.56,34.35 L718.58,34.20 L717.61,34.07 L716.63,33.95 L715.65,33.85 L714.67,33.77 L713.69,33.70 L712.71,33.65 L711.73,33.61 L710.75,33.60 L709.77,33.60 L708.79,33.61 L707.81,33.65 L706.83,33.70 L705.85,33.77 L704.87,33.86 L703.89,33.97 L702.91,34.09 L701.92,34.24 L700.94,34.40 L699.96,34.58 L698.98,34.78 L698.00,35.00 L697.02,35.24 L696.04,35.50 L695.06,35.78 L694.08,36.08 L693.10,36.40 L692.12,36.75 L691.14,37.11 L690.16,37.49 L689.18,37.90 L688.20,38.32 L687.22,38.77 L686.24,39.24 L685.26,39.73 L684.28,40.25 L683.30,40.78 L682.32,41.34 L681.35,41.93 L680.37,42.53 L679.39,43.16 L678.41,43.81 L677.43,44.49 L676.46,45.19 L675.48,45.92 L674.50,46.67 L673.53,47.44 L672.55,48.24 L671.57,49.07 L670.60,49.92 L669.62,50.80 L668.65,51.70 L667.67,52.63 L666.70,53.58 L665.72,54.57 L664.75,55.58 L663.77,56.62 L662.80,57.68 L661.83,58.77 L660.85,59.90 L659.88,61.05 L658.90,62.23 L657.93,63.43 L656.96,64.67 L655.99,65.94 L655.01,67.24 L654.04,68.57 L653.07,69.93 L652.10,71.32 L651.12,72.74 L650.15,74.19 L649.18,75.68 L648.21,77.20 L647.24,78.75 L646.26,80.33 L645.29,81.95 L644.32,83.60 L643.35,85.28 L642.38,87.00 L641.41,88.76 L640.44,90.54 L639.47,92.37 L638.50,94.23 L637.53,96.13 L636.56,98.06 L635.59,100.03 L634.61,102.04 L633.64,104.08 L632.67,106.17 L631.70,108.29 L630.73,110.45 L629.76,112.65 L628.79,114.89 L627.82,117.17 L626.85,119.49 L625.88,121.85 L624.92,124.26 L623.95,126.70 L622.98,129.19 L622.01,131.72 L621.04,134.30 L620.07,136.91 L619.10,139.57 L618.13,142.28 L617.16,145.03 L616.19,147.83 L615.22,150.67 L614.25,153.56 L613.28,156.50 L612.31,159.48 L611.34,162.51 L610.38,165.59 L609.41,168.72 L608.44,171.89 L607.47,175.12 L606.50,178.40 L605.53,181.73 L604.56,185.11 L603.59,188.54 L602.62,192.03 L601.66,195.57 L600.69,199.16 L599.72,202.80 L598.75,206.50 L597.78,210.26 L596.81,214.07 L595.84,217.94 L594.87,221.87 L593.91,225.85 L592.94,229.89 L591.97,233.99 L591.00,238.15 L590.03,242.37 L589.06,246.65 L588.09,250.99Z" fill="#000" stroke="none"/>
</g>
<rect class="sp" x="592.40" y="11.40" width="224.10" height="221.00"/>
<path class="sp" d="M592.40,232.40v2.3M647.23,232.40v2.3M679.30,232.40v2.3M719.70,232.40v2.3M746.32,232.40v2.3M774.53,232.40v2.3M816.50,232.40v2.3M592.40,232.40h-3M592.40,181.27h-3M592.40,151.35h-3M592.40,113.67h-3M592.40,88.85h-3M592.40,62.53h-3M592.40,11.40h-3"/>
<path class="sp" style="stroke-width:0.6;stroke:#555" d="M702.05,232.40v1.3M734.12,232.40v1.3M756.88,232.40v1.3M766.19,232.40v1.3M592.40,130.13h-1.6M592.40,100.22h-1.6M592.40,79.00h-1.6M592.40,70.31h-1.6"/>
<text class="tk" x="592.40" y="245.00" text-anchor="middle">1</text>
<text class="tk" x="647.23" y="245.00" text-anchor="middle">2</text>
<text class="tk" x="679.30" y="245.00" text-anchor="middle">3</text>
<text class="tk" x="719.70" y="245.00" text-anchor="middle">5</text>
<text class="tk" x="746.32" y="245.00" text-anchor="middle">7</text>
<text class="tk" x="774.53" y="245.00" text-anchor="middle">10</text>
<text class="tk" x="816.50" y="245.00" text-anchor="middle">17</text>
<text class="ty" x="587.20" y="236.65" text-anchor="end">0.1</text>
<text class="ty" x="587.20" y="185.52" text-anchor="end">0.2</text>
<text class="ty" x="587.20" y="155.60" text-anchor="end">0.3</text>
<text class="ty" x="587.20" y="117.92" text-anchor="end">0.5</text>
<text class="ty" x="587.20" y="93.10" text-anchor="end">0.7</text>
<text class="ty" x="587.20" y="66.78" text-anchor="end">1.0</text>
<text class="ty" x="587.20" y="15.65" text-anchor="end">2.0</text>
<text class="lb" x="704.45" y="257.70" text-anchor="middle">Rigidity (GV)</text>
<g transform="translate(567.70,0) rotate(-90)"><text class="lb" x="-221.50" y="0.00" style="font-size:11.05px">Differential</text><text class="lb" x="-167.00" y="0.00" style="font-size:11.05px">response</text><text class="lb" x="-117.85" y="0.00" style="font-size:11.05px">function</text><text class="lb" x="-76.10" y="0.00" style="font-size:11.05px">(s</text><text class="lb" x="-65.50" y="-4.70" style="font-size:7.5px" textLength="4.7" lengthAdjust="spacingAndGlyphs">−</text><text class="lb" x="-60.30" y="-4.70" style="font-size:7.9px">1</text><text class="lb" x="-53.10" y="0.00" style="font-size:11.05px">GV</text><text class="lb" x="-36.00" y="-4.70" style="font-size:7.5px" textLength="4.7" lengthAdjust="spacingAndGlyphs">−</text><text class="lb" x="-31.10" y="-4.70" style="font-size:7.9px">1</text><text class="lb" x="-26.30" y="0.00" style="font-size:11.05px">)</text></g>
<path d="M600.20,24.1h20.6" stroke="#0000ff" stroke-width="1.75" fill="none"/>
<text class="lg" x="627.90" y="27.40" text-anchor="start">2006 (A&lt;0)</text>
<path d="M600.20,37.7h20.6" stroke="#000000" stroke-width="1.5" fill="none"/>
<text class="lg" x="627.90" y="41.00" text-anchor="start">2019 (A&gt;0)</text>
<text class="tg" x="788.80" y="33.90" text-anchor="middle">(c)</text>
</g>
</svg></body></html>
